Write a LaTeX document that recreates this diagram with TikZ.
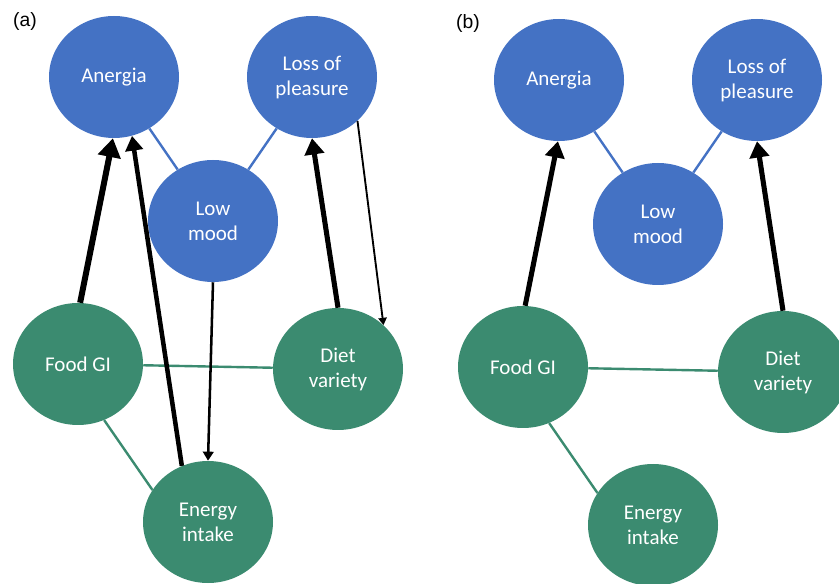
\documentclass[tikz,border=0pt]{standalone}
\usepackage{fontspec}
\setmainfont{Carlito}
\newfontfamily\panelfont{Liberation Sans}
\usetikzlibrary{arrows.meta,shapes.geometric}
\definecolor{moodblue}{RGB}{68,114,196}
\definecolor{dietgreen}{RGB}{59,139,112}

\begin{document}
\begin{tikzpicture}[x=0.75pt,y=-0.75pt,
    bubble/.style={ellipse,minimum width=97.5pt,minimum height=91.5pt,inner sep=0pt,
      text=white,align=center,font=\fontsize{15.75}{18.75}\selectfont},
    symptom/.style={bubble,fill=moodblue},
    habit/.style={bubble,fill=dietgreen},
    bluelink/.style={moodblue,line width=1.8pt},
    greenlink/.style={dietgreen,line width=1.8pt},
    effect/.style={-{Triangle[length=1.5pt 2.8,width=1.5pt 3.4]},line width=#1},
    panel/.style={font=\panelfont\fontsize{14.5}{17}\selectfont}]
  \useasboundingbox (0,0) rectangle (839,584);

  % (a)
  \node[panel] (labA) at (25,22) {(a)};
  \node[symptom] (anergiaA) at (114,77) {Anergia};
  \node[symptom] (lossA) at (312,77) {Loss of\\pleasure};
  \node[symptom] (lowA) at (213,221) {Low\\mood};
  \node[habit] (foodA) at (78,364) {Food GI};
  \node[habit] (dietA) at (338,369) {Diet\\variety};
  \node[habit] (energyA) at (208,522) {Energy\\intake};

  \draw[bluelink] (anergiaA) -- (lowA);
  \draw[bluelink] (lossA) -- (lowA);
  \draw[greenlink] (foodA) -- (dietA);
  \draw[greenlink] (foodA.-65) -- (energyA.150);

  \draw[effect=4.5pt] (foodA.88) -- (anergiaA.-91);
  \draw[effect=3.4pt] (energyA.115) -- (anergiaA.-73);
  \draw[effect=1.9pt] (lowA.south) -- (energyA.north);
  \draw[effect=3.8pt] (dietA.north) -- (lossA.south);
  \draw[effect=1.4pt] (lossA.-44) -- (dietA.44);

  % (b)
  \begin{scope}[shift={(445,3)}]
    \node[panel] (labB) at (23,21) {(b)};
    \node[symptom] (anergiaB) at (114,77) {Anergia};
    \node[symptom] (lossB) at (312,77) {Loss of\\pleasure};
    \node[symptom] (lowB) at (213,221) {Low\\mood};
    \node[habit] (foodB) at (78,364) {Food GI};
    \node[habit] (dietB) at (338,369) {Diet\\variety};
    \node[habit] (energyB) at (208,522) {Energy\\intake};

    \draw[bluelink] (anergiaB) -- (lowB);
    \draw[bluelink] (lossB) -- (lowB);
    \draw[greenlink] (foodB) -- (dietB);
    \draw[greenlink] (foodB.-65) -- (energyB.150);

    \draw[effect=3.8pt] (foodB.88) -- (anergiaB.-91);
    \draw[effect=3.8pt] (dietB.north) -- (lossB.south);
  \end{scope}
\end{tikzpicture}
\end{document}
